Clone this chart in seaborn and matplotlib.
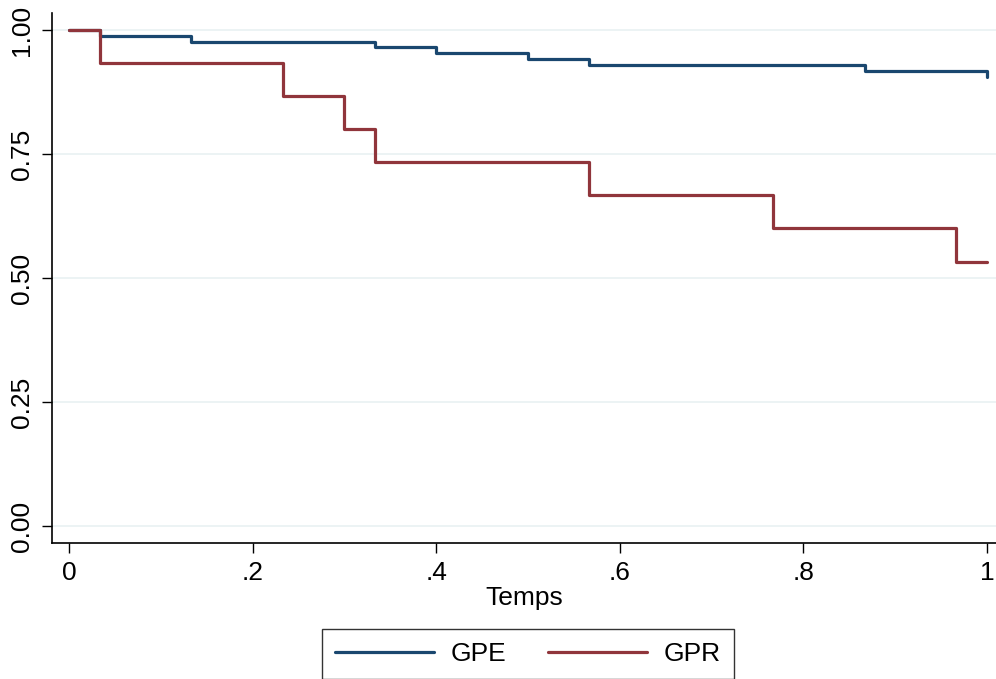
import pandas as pd
import matplotlib
matplotlib.use("Agg")
import matplotlib.pyplot as plt
import seaborn as sns

# Kaplan-Meier steps
gpe_time = [0.0, 0.0333, 0.1333, 0.3333, 0.4, 0.5, 0.5667, 0.8667, 1.0]
gpe_surv = [1.0, 0.988, 0.976, 0.965, 0.953, 0.941, 0.929, 0.918, 0.906]

gpr_time = [0.0, 0.0333, 0.2333, 0.3, 0.3333, 0.5667, 0.7667, 0.9667, 1.0]
gpr_surv = [1.0, 0.933, 0.867, 0.8, 0.733, 0.667, 0.6, 0.533, 0.533]

groups = ["GPE", "GPR"]
colors = ["#1a476f", "#90353b"]

x_ticks = [0, 0.2, 0.4, 0.6, 0.8, 1.0]
x_labels = ["0", ".2", ".4", ".6", ".8", "1"]
y_ticks = [0.0, 0.25, 0.5, 0.75, 1.0]
y_labels = ["0.00", "0.25", "0.50", "0.75", "1.00"]

df = pd.concat([
    pd.DataFrame({"time": gpe_time, "surv": gpe_surv, "group": "GPE"}),
    pd.DataFrame({"time": gpr_time, "surv": gpr_surv, "group": "GPR"}),
], ignore_index=True)

sns.set_style("white")
plt.rcParams["font.family"] = ["Liberation Sans", "DejaVu Sans"]
plt.rcParams["text.color"] = "black"
plt.rcParams["xtick.color"] = "black"
plt.rcParams["ytick.color"] = "black"
plt.rcParams["axes.labelcolor"] = "black"

fig = plt.figure(figsize=(9.96, 6.79), dpi=100)
ax = fig.add_axes([0.0522, 0.2003, 0.9478, 0.7806])

for g, c in zip(groups, colors):
    sub = df[df["group"] == g]
    sns.lineplot(
        data=sub, x="time", y="surv",
        estimator=None, sort=False,
        drawstyle="steps-post",
        color=c, linewidth=2.3,
        label=g, ax=ax,
    )

ax.set_xlim(-0.0185, 1.0098)
ax.set_ylim(-0.0343, 1.0343)

for yv in y_ticks:
    ax.axhline(yv, color="#eaf2f3", linewidth=1.3, zorder=0)

ax.set_xticks(x_ticks)
ax.set_xticklabels(x_labels)
ax.set_yticks(y_ticks)
ax.set_yticklabels(y_labels, rotation=90, va="center")

ax.tick_params(axis="both", direction="out", length=7, width=1,
               color="black", labelcolor="black", labelsize=19, pad=6,
               left=True, bottom=True)

ax.set_xlabel("Temps", fontsize=19, labelpad=1, color="black")
ax.set_ylabel("")

for side in ["top", "right"]:
    ax.spines[side].set_visible(False)
for side in ["left", "bottom"]:
    ax.spines[side].set_color("black")
    ax.spines[side].set_linewidth(1.2)

ax.get_legend().remove()
handles, labels = ax.get_legend_handles_labels()
leg = fig.legend(
    handles, labels,
    loc="upper center", bbox_to_anchor=(0.53, 0.074),
    ncol=2, fontsize=19, frameon=True, fancybox=False,
    handlelength=3.75, handletextpad=0.65, columnspacing=1.55,
    borderpad=0.5, borderaxespad=0,
)
leg.get_frame().set_edgecolor("black")
leg.get_frame().set_linewidth(1.0)

fig.savefig("out.png", dpi=100)
